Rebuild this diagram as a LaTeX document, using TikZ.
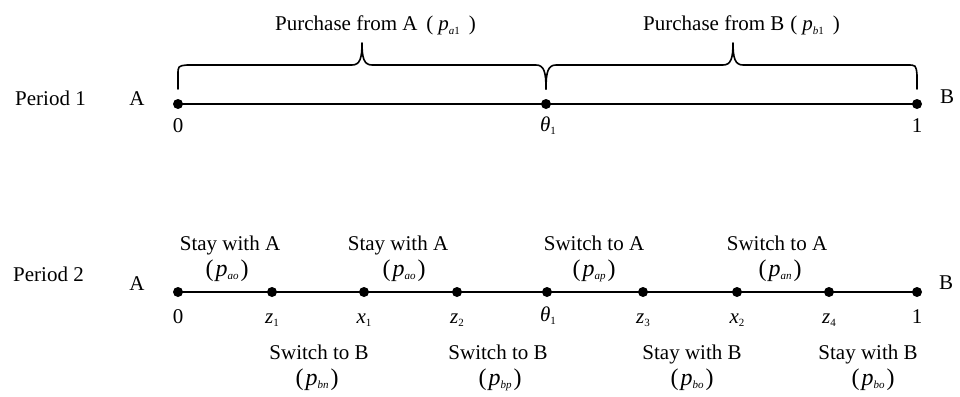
\documentclass[tikz,border=0pt]{standalone}
\usepackage{fontspec}
\setmainfont{Liberation Serif}
% small italic subscript and the price tag (p_xx)
\newcommand\sbs[1]{\raisebox{-0.35ex}{\fontsize{11}{11}\selectfont #1}}
\newcommand\price[1]{{\fontsize{24}{26}\selectfont(\kern2pt\textit{p}\sbs{\textit{#1}}\kern2pt)}}
\newcommand\tvar[2]{\textit{#1}\sbs{#2}}

\begin{document}
\begin{tikzpicture}[x=1pt,y=-1pt,
  dot/.style={circle,fill=black,inner sep=0pt,minimum size=10pt},
  axis/.style={line width=2pt},
  bracepath/.style={line width=1.6pt,line join=round,line cap=round},
  lbl/.style={inner sep=0pt,anchor=base,font=\fontsize{21}{25}\selectfont},
  lblw/.style={lbl,anchor=base west},
]
\useasboundingbox (0,0) rectangle (960,396);

% ---------------- Period 1 ----------------
\node[dot] (p1a) at (178,104) {};
\node[dot] (p1t) at (546,104) {};
\node[dot] (p1b) at (917,104) {};
\draw[axis] (p1a.center) -- (p1t.center) -- (p1b.center);

\node[lblw] (per1) at (15,105) {Period 1};
\node[lbl]  (p1A)  at (137,105) {A};
\node[lbl]  (p1B)  at (947,103) {B};
\node[lbl]  (p1l0) at (178,132) {0};
\node[lbl]  (p1lt) at (548,131) {\tvar{θ}{1}};
\node[lbl]  (p1l1) at (917,132) {1};

% braces over the two segments
\draw[bracepath] (178,89) -- (178,75) .. controls (178,66) .. (187,65)
  -- (352,65) .. controls (360,65) and (362,58) .. (362,43)
  .. controls (362,58) and (364,65) .. (372,65)
  -- (536,65) .. controls (544,65) and (546,72) .. (546,89);
\draw[bracepath] (546,89) .. controls (546,72) and (548,65) .. (556,65)
  -- (723,65) .. controls (731,65) and (733,58) .. (733,43)
  .. controls (733,58) and (735,65) .. (743,65)
  -- (907,65) .. controls (916,65) .. (917,75) -- (917,89);

\node[lblw] (buyA) at (275,31) {Purchase from A\hspace{9pt}(\hspace{5pt}\textit{p}\sbs{\textit{a}1}\hspace{9pt})};
\node[lblw] (buyB) at (643,31) {Purchase from B\hspace{6pt}(\hspace{5pt}\textit{p}\sbs{\textit{b}1}\hspace{9pt})};

% ---------------- Period 2 ----------------
\node[dot] (q0) at (178,292) {};
\node[dot] (q1) at (272,292) {};
\node[dot] (q2) at (364,292) {};
\node[dot] (q3) at (457,292) {};
\node[dot] (q4) at (547,292) {};
\node[dot] (q5) at (643,292) {};
\node[dot] (q6) at (737,292) {};
\node[dot] (q7) at (829,292) {};
\node[dot] (q8) at (917,292) {};
\draw[axis] (q0.center) -- (q1.center) -- (q2.center) -- (q3.center) -- (q4.center)
  -- (q5.center) -- (q6.center) -- (q7.center) -- (q8.center);

\node[lblw] (per2) at (13,281) {Period 2};
\node[lbl]  (p2A)  at (137,290) {A};
\node[lbl]  (p2B)  at (946,289) {B};

\node[lbl] (l0) at (178,323) {0};
\node[lbl] (l1) at (272,323) {\tvar{z}{1}};
\node[lbl] (l2) at (364,323) {\tvar{x}{1}};
\node[lbl] (l3) at (457,323) {\tvar{z}{2}};
\node[lbl] (l4) at (548,321) {\tvar{θ}{1}};
\node[lbl] (l5) at (643,323) {\tvar{z}{3}};
\node[lbl] (l6) at (737,323) {\tvar{x}{2}};
\node[lbl] (l7) at (829,323) {\tvar{z}{4}};
\node[lbl] (l8) at (917,323) {1};

% choices above the line
\node[lbl] (u1) at (230,250) {Stay with A};
\node[lbl] (u1p) at (227,276) {\price{ao}};
\node[lbl] (u2) at (398,250) {Stay with A};
\node[lbl] (u2p) at (404,276) {\price{ao}};
\node[lbl] (u3) at (594,250) {Switch to A};
\node[lbl] (u3p) at (594,276) {\price{ap}};
\node[lbl] (u4) at (777,250) {Switch to A};
\node[lbl] (u4p) at (780,276) {\price{an}};

% choices below the line
\node[lbl] (d1) at (319,359) {Switch to B};
\node[lbl] (d1p) at (317,385) {\price{bn}};
\node[lbl] (d2) at (498,359) {Switch to B};
\node[lbl] (d2p) at (500,385) {\price{bp}};
\node[lbl] (d3) at (692,359) {Stay with B};
\node[lbl] (d3p) at (692,385) {\price{bo}};
\node[lbl] (d4) at (868,359) {Stay with B};
\node[lbl] (d4p) at (873,385) {\price{bo}};
\end{tikzpicture}
\end{document}
